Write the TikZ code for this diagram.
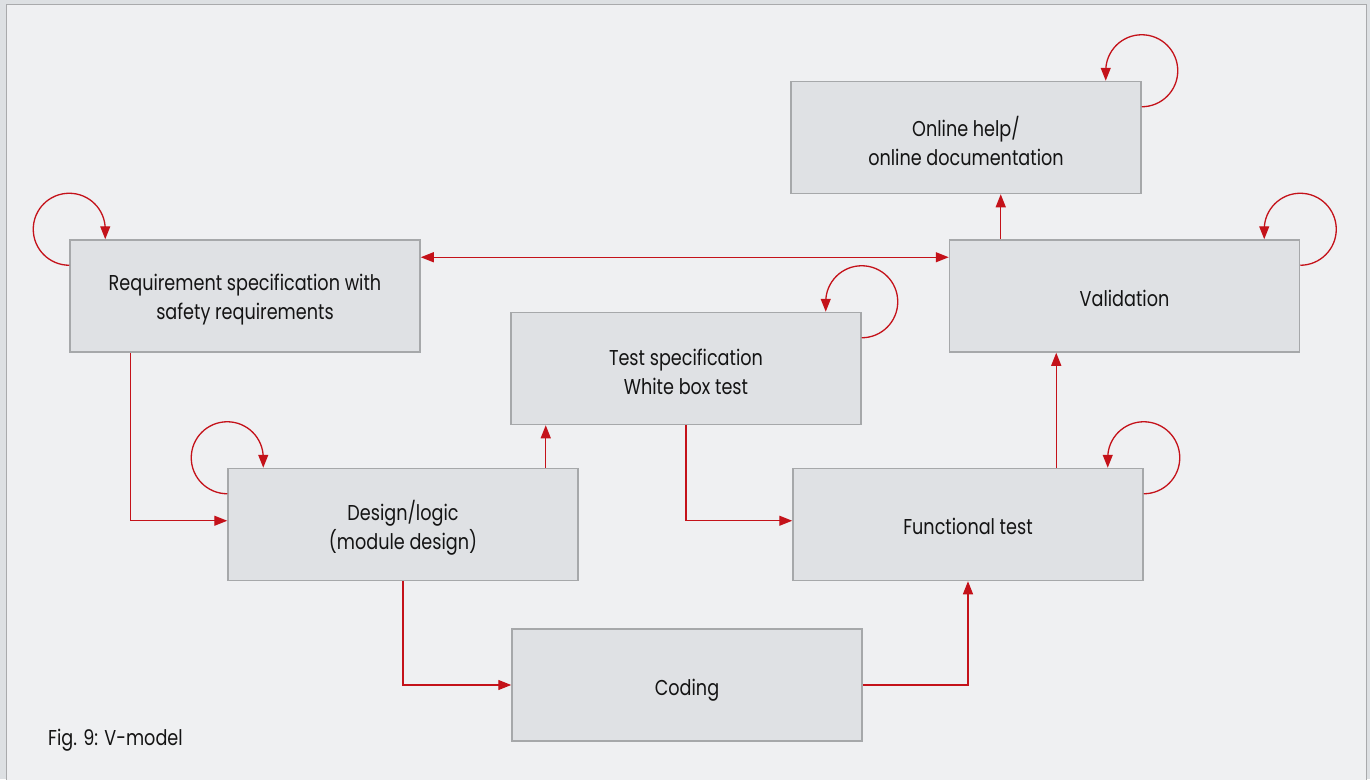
\documentclass[tikz,border=0pt]{standalone}
\usepackage{fontspec}
\setmainfont{Poppins}[FakeStretch=0.82]
\usetikzlibrary{arrows.meta,calc}
\definecolor{pagebg}{HTML}{DDE0E3}
\definecolor{panelbg}{HTML}{EFF0F2}
\definecolor{frameline}{HTML}{A9AAAC}
\definecolor{boxfill}{HTML}{DFE1E4}
\definecolor{boxline}{HTML}{A6A8AA}
\definecolor{flowred}{HTML}{C4121A}
\begin{document}
\begin{tikzpicture}[x=1pt,y=-1pt,
  stage/.style={draw=boxline,fill=boxfill,line width=1.5pt,
    minimum width=350pt,minimum height=112pt,inner sep=0pt},
  stagetext/.style={align=center,inner sep=0pt,
    font=\fontsize{21.5}{29}\selectfont,text=black!92},
  oneline/.style={label={[stagetext,text height=16pt,text depth=5pt,yshift=-4.5pt]center:#1}},
  twolines/.style={label={[stagetext,yshift=-3.5pt]center:#1}},
  flow/.style={draw=flowred,line width=1.3pt,
    -{Triangle[length=13pt,width=10pt]}},
  flow2/.style={draw=flowred,line width=1.3pt,
    {Triangle[length=13pt,width=10pt]}-{Triangle[length=13pt,width=10pt]}}]
% page and panel
\fill[pagebg] (0,0) rectangle (1370,779);
\useasboundingbox (0,0) rectangle (1370,779);
\filldraw[fill=panelbg,draw=frameline,line width=1.5pt] (6.5,4.5) rectangle (1366.5,800);

% stages
\node[stage,twolines={Online help/\\online documentation}] (online) at (966,137.5) {};
\node[stage,twolines={Requirement specification with\\safety requirements}] (req) at (245,296) {};
\node[stage,oneline={Validation}] (valid) at (1124.5,296) {};
\node[stage,twolines={Test specification\\White box test}] (tspec) at (686,368.5) {};
\node[stage,twolines={Design/logic\\(module design)}] (design) at (403,524.5) {};
\node[stage,oneline={Functional test}] (func) at (968,524.5) {};
\node[stage,oneline={Coding}] (coding) at (687,685) {};

\node[anchor=base west,inner sep=0pt,font=\fontsize{21.5}{24}\selectfont,text=black!92] (cap) at (48,745) {Fig. 9: V-model};

% iteration loops on the left side
\foreach \b in {req,design}{
  \draw[flow] ($(\b.north west)+(0,26)$) arc[start angle=270,end angle=0,radius=36pt] -- ++(0,10);
}
% iteration loops on the right side
\foreach \b in {online,valid,tspec,func}{
  \draw[flow] ($(\b.north east)+(0,26)$) arc[start angle=-90,end angle=180,radius=36pt] -- ++(0,10);
}

% flow between stages
\draw[flow] ($(req.south west)+(61,0)$) |- ($(design.north west)+(0,53)$);
\draw[flow2] ($(req.north east)+(0,18)$) -- ($(valid.north west)+(0,18)$);
\draw[flow] ($(design.north east)+(-33,0)$) coordinate (d1) -- (d1 |- tspec.south);
\draw[flow] (design.south) |- (coding.west);
\draw[flow] (tspec.south) |- ($(func.north west)+(0,53)$);
\draw[flow] (coding.east) -| (func.south);
\draw[flow] ($(func.north west)+(264,0)$) coordinate (f1) -- (f1 |- valid.south);
\draw[flow] ($(valid.north west)+(52,0)$) coordinate (v1) -- (v1 |- online.south);
\end{tikzpicture}
\end{document}
